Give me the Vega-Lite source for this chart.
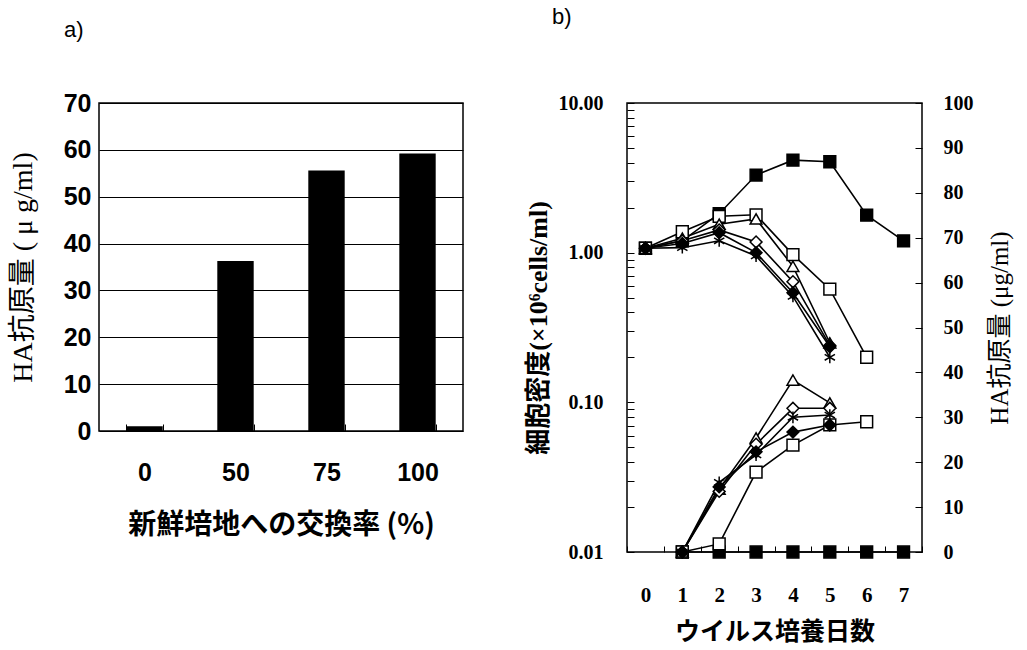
{
  "$schema": "https://vega.github.io/schema/vega-lite/v6.json",
  "background": "white",
  "padding": {"left": 8, "top": 5, "right": 5, "bottom": 5},
  "spacing": 60,
  "config": {
    "view": {"stroke": "black", "strokeWidth": 1.5},
    "axis": {"labelColor": "black", "titleColor": "black", "tickColor": "black", "domain": false, "grid": false, "labelOverlap": false}
  },
  "datasets": {
    "bars": [
      {"rate": "0", "ha": 1.0},
      {"rate": "50", "ha": 36.3},
      {"rate": "75", "ha": 55.6},
      {"rate": "100", "ha": 59.2}
    ],
    "cells": [
      {"day": 0, "series": "sq_filled", "density": 1.07},
      {"day": 1, "series": "sq_filled", "density": 1.2},
      {"day": 2, "series": "sq_filled", "density": 1.82},
      {"day": 3, "series": "sq_filled", "density": 3.3},
      {"day": 4, "series": "sq_filled", "density": 4.15},
      {"day": 5, "series": "sq_filled", "density": 4.05},
      {"day": 6, "series": "sq_filled", "density": 1.78},
      {"day": 7, "series": "sq_filled", "density": 1.2},
      {"day": 0, "series": "sq_open", "density": 1.07},
      {"day": 1, "series": "sq_open", "density": 1.38},
      {"day": 2, "series": "sq_open", "density": 1.75},
      {"day": 3, "series": "sq_open", "density": 1.79},
      {"day": 4, "series": "sq_open", "density": 0.97},
      {"day": 5, "series": "sq_open", "density": 0.57},
      {"day": 6, "series": "sq_open", "density": 0.2},
      {"day": 0, "series": "tri_open", "density": 1.07},
      {"day": 1, "series": "tri_open", "density": 1.25},
      {"day": 2, "series": "tri_open", "density": 1.55},
      {"day": 3, "series": "tri_open", "density": 1.68},
      {"day": 4, "series": "tri_open", "density": 0.81},
      {"day": 5, "series": "tri_open", "density": 0.25},
      {"day": 0, "series": "dia_open", "density": 1.07},
      {"day": 1, "series": "dia_open", "density": 1.2},
      {"day": 2, "series": "dia_open", "density": 1.42},
      {"day": 3, "series": "dia_open", "density": 1.18},
      {"day": 4, "series": "dia_open", "density": 0.64},
      {"day": 5, "series": "dia_open", "density": 0.24},
      {"day": 0, "series": "dia_filled", "density": 1.07},
      {"day": 1, "series": "dia_filled", "density": 1.15},
      {"day": 2, "series": "dia_filled", "density": 1.36},
      {"day": 3, "series": "dia_filled", "density": 1.0},
      {"day": 4, "series": "dia_filled", "density": 0.54},
      {"day": 5, "series": "dia_filled", "density": 0.235},
      {"day": 0, "series": "asterisk", "density": 1.07},
      {"day": 1, "series": "asterisk", "density": 1.08},
      {"day": 2, "series": "asterisk", "density": 1.2},
      {"day": 3, "series": "asterisk", "density": 0.95},
      {"day": 4, "series": "asterisk", "density": 0.51},
      {"day": 5, "series": "asterisk", "density": 0.2}
    ],
    "ha": [
      {"day": 1, "series": "sq_filled", "ha": 0},
      {"day": 2, "series": "sq_filled", "ha": 0},
      {"day": 3, "series": "sq_filled", "ha": 0},
      {"day": 4, "series": "sq_filled", "ha": 0},
      {"day": 5, "series": "sq_filled", "ha": 0},
      {"day": 6, "series": "sq_filled", "ha": 0},
      {"day": 7, "series": "sq_filled", "ha": 0},
      {"day": 1, "series": "sq_open", "ha": 0},
      {"day": 2, "series": "sq_open", "ha": 1.8},
      {"day": 3, "series": "sq_open", "ha": 17.8},
      {"day": 4, "series": "sq_open", "ha": 23.8},
      {"day": 5, "series": "sq_open", "ha": 28.3},
      {"day": 6, "series": "sq_open", "ha": 29},
      {"day": 1, "series": "tri_open", "ha": 0},
      {"day": 2, "series": "tri_open", "ha": 14},
      {"day": 3, "series": "tri_open", "ha": 25.4},
      {"day": 4, "series": "tri_open", "ha": 38.3},
      {"day": 5, "series": "tri_open", "ha": 33.2},
      {"day": 1, "series": "dia_open", "ha": 0},
      {"day": 2, "series": "dia_open", "ha": 13.5},
      {"day": 3, "series": "dia_open", "ha": 24},
      {"day": 4, "series": "dia_open", "ha": 32},
      {"day": 5, "series": "dia_open", "ha": 32},
      {"day": 1, "series": "asterisk", "ha": 0},
      {"day": 2, "series": "asterisk", "ha": 15.5},
      {"day": 3, "series": "asterisk", "ha": 21.6},
      {"day": 4, "series": "asterisk", "ha": 30},
      {"day": 5, "series": "asterisk", "ha": 30.5},
      {"day": 1, "series": "dia_filled", "ha": 0},
      {"day": 2, "series": "dia_filled", "ha": 14.5},
      {"day": 3, "series": "dia_filled", "ha": 22.3},
      {"day": 4, "series": "dia_filled", "ha": 26.7},
      {"day": 5, "series": "dia_filled", "ha": 28.3}
    ]
  },
  "hconcat": [
    {
      "width": 364,
      "height": 328,
      "title": {"text": "a)", "anchor": "start", "frame": "group", "dx": -35, "offset": 49, "font": "Liberation Sans", "fontSize": 22, "fontWeight": "normal", "color": "black"},
      "data": {"name": "bars"},
      "mark": {"type": "bar", "color": "black"},
      "encoding": {
        "x": {
          "field": "rate", "type": "ordinal", "sort": ["0", "50", "75", "100"],
          "scale": {"type": "band", "paddingInner": 0.6, "paddingOuter": 0.3},
          "axis": {
            "title": "新鮮培地への交換率 (%)", "labelAngle": 0, "tickBand": "extent", "tickSize": -7, "ticks": true,
            "labelFont": "Liberation Sans", "labelFontSize": 25, "labelFontWeight": "bold", "labelPadding": 36,
            "titleFont": "Noto Sans CJK JP", "titleFontSize": 28, "titleFontWeight": "bold", "titlePadding": 26
          }
        },
        "y": {
          "field": "ha", "type": "quantitative",
          "scale": {"domain": [0, 70], "nice": false},
          "axis": {
            "title": "HA抗原量 ( μ g/ml)", "values": [0, 10, 20, 30, 40, 50, 60, 70], "grid": true, "gridColor": "black", "gridWidth": 1.2, "ticks": false,
            "labelFont": "Liberation Sans", "labelFontSize": 25, "labelFontWeight": "bold", "labelPadding": 8,
            "titleFont": "Liberation Serif, Noto Sans CJK JP", "titleFontSize": 28, "titleFontWeight": "normal", "titlePadding": 26
          }
        }
      }
    },
    {
      "width": 295,
      "height": 449,
      "title": {"text": "b)", "anchor": "start", "frame": "group", "dx": -75, "offset": 64, "font": "Liberation Sans", "fontSize": 22, "fontWeight": "normal", "color": "black"},
      "layer": [
        {
          "data": {"name": "cells"},
          "encoding": {
            "x": {
              "field": "day", "type": "ordinal",
              "scale": {"type": "band", "domain": [0, 1, 2, 3, 4, 5, 6, 7], "paddingInner": 0, "paddingOuter": 0},
              "axis": {
                "title": "ウイルス培養日数", "labelAngle": 0, "tickBand": "extent", "tickSize": -6, "ticks": true,
                "labelFont": "Liberation Serif", "labelFontSize": 21, "labelFontWeight": "bold", "labelPadding": 38,
                "titleFont": "Noto Sans CJK JP", "titleFontSize": 25, "titleFontWeight": "bold", "titlePadding": 14
              }
            },
            "y": {
              "field": "density", "type": "quantitative",
              "scale": {"type": "log", "domain": [0.01, 10], "nice": false},
              "axis": {
                "orient": "left",
                "title": "細胞密度(×10⁶cells/ml)",
                "values": [0.01, 0.02, 0.03, 0.04, 0.05, 0.06, 0.07, 0.08, 0.09, 0.1, 0.2, 0.3, 0.4, 0.5, 0.6, 0.7, 0.8, 0.9, 1, 2, 3, 4, 5, 6, 7, 8, 9, 10],
                "labelExpr": "(datum.value == 0.01 || datum.value == 0.1 || datum.value == 1 || datum.value == 10) ? format(datum.value, '.2f') : ''",
                "tickSize": -7, "ticks": true,
                "labelFont": "Liberation Serif", "labelFontSize": 20, "labelFontWeight": "bold", "labelPadding": 31,
                "titleFont": "Liberation Serif, Noto Sans CJK JP", "titleFontSize": 26, "titleFontWeight": "bold", "titlePadding": 7
              }
            }
          },
          "layer": [
            {"mark": {"type": "line", "color": "black", "strokeWidth": 1.6}, "encoding": {"detail": {"field": "series"}}},
            {
              "mark": {"type": "point", "size": 140, "strokeWidth": 1.5, "opacity": 1, "stroke": "black"},
              "encoding": {
                "shape": {"field": "series", "legend": null, "scale": {"domain": ["sq_filled", "sq_open", "tri_open", "dia_open", "dia_filled", "asterisk"], "range": ["square", "square", "triangle-up", "diamond", "diamond", "M0,-1L0,1M-0.87,-0.5L0.87,0.5M-0.87,0.5L0.87,-0.5"]}},
                "fill": {"field": "series", "legend": null, "scale": {"domain": ["sq_filled", "sq_open", "tri_open", "dia_open", "dia_filled", "asterisk"], "range": ["black", "white", "white", "white", "black", "black"]}}
              }
            }
          ]
        },
        {
          "data": {"name": "ha"},
          "encoding": {
            "x": {
              "field": "day", "type": "ordinal",
              "scale": {"type": "band", "domain": [0, 1, 2, 3, 4, 5, 6, 7], "paddingInner": 0, "paddingOuter": 0},
              "axis": {
                "title": "ウイルス培養日数", "labelAngle": 0, "tickBand": "extent", "tickSize": -6, "ticks": true,
                "labelFont": "Liberation Serif", "labelFontSize": 21, "labelFontWeight": "bold", "labelPadding": 38,
                "titleFont": "Noto Sans CJK JP", "titleFontSize": 25, "titleFontWeight": "bold", "titlePadding": 14
              }
            },
            "y": {
              "field": "ha", "type": "quantitative",
              "scale": {"domain": [0, 100], "nice": false},
              "axis": {
                "orient": "right",
                "title": "HA抗原量 (μg/ml)",
                "titleAngle": 270,
                "titleBaseline": "top",
                "values": [0, 10, 20, 30, 40, 50, 60, 70, 80, 90, 100],
                "tickSize": -7, "ticks": true,
                "labelFont": "Liberation Serif", "labelFontSize": 20, "labelFontWeight": "bold", "labelPadding": 28,
                "titleFont": "Liberation Serif, Noto Sans CJK JP", "titleFontSize": 25, "titleFontWeight": "normal", "titlePadding": 14
              }
            }
          },
          "layer": [
            {"mark": {"type": "line", "color": "black", "strokeWidth": 1.6}, "encoding": {"detail": {"field": "series"}}},
            {
              "mark": {"type": "point", "size": 140, "strokeWidth": 1.5, "opacity": 1, "stroke": "black"},
              "encoding": {
                "shape": {"field": "series", "legend": null, "scale": {"domain": ["sq_filled", "sq_open", "tri_open", "dia_open", "dia_filled", "asterisk"], "range": ["square", "square", "triangle-up", "diamond", "diamond", "M0,-1L0,1M-0.87,-0.5L0.87,0.5M-0.87,0.5L0.87,-0.5"]}},
                "fill": {"field": "series", "legend": null, "scale": {"domain": ["sq_filled", "sq_open", "tri_open", "dia_open", "dia_filled", "asterisk"], "range": ["black", "white", "white", "white", "black", "black"]}}
              }
            }
          ]
        }
      ],
      "resolve": {"scale": {"y": "independent", "shape": "shared", "fill": "shared"}}
    }
  ]
}
